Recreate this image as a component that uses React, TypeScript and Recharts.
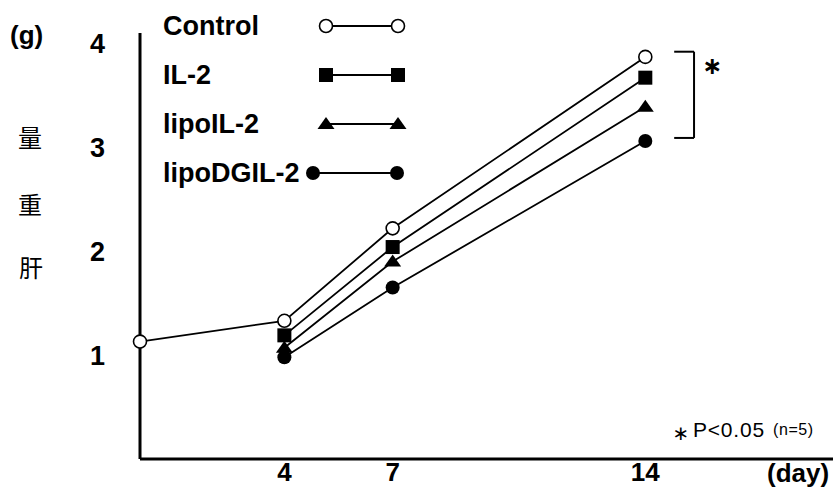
import React from 'react';
import { LineChart, Line, XAxis, YAxis, Legend, ReferenceLine } from 'recharts';

// liver weight (g) by day after treatment
const days = [0, 4, 7, 14];
const control = [1.13, 1.33, 2.22, 3.87];
const il2 = [null, 1.19, 2.04, 3.67];
const lipoIl2 = [null, 1.07, 1.9, 3.39];
const lipoDgIl2 = [null, 0.98, 1.65, 3.06];

const xTicks = [4, 7, 14];
const yTicks = [1, 2, 3, 4];

const seriesNames = ['Control', 'IL-2', 'lipoIL-2', 'lipoDGIL-2'];
const seriesKeys = ['control', 'il2', 'lipoIl2', 'lipoDgIl2'];
const seriesShapes = ['openCircle', 'square', 'triangle', 'dot'];

// significance bracket (day, g)
const bracketDays = [14.8, 15.35];
const bracketWeights = [3.09, 3.92];

const data = days.map((day, i) => ({
  day,
  control: control[i],
  il2: il2[i],
  lipoIl2: lipoIl2[i],
  lipoDgIl2: lipoDgIl2[i],
}));

const FONT = '"Liberation Sans", Arial, Helvetica, sans-serif';

function Marker({ shape, cx, cy }: { shape: string; cx: number; cy: number }) {
  if (shape === 'openCircle') {
    return <circle cx={cx} cy={cy} r={6.5} fill="#fff" stroke="#000" strokeWidth={1.6} />;
  }
  if (shape === 'square') {
    return <rect x={cx - 7} y={cy - 7} width={14} height={14} fill="#000" />;
  }
  if (shape === 'triangle') {
    return <polygon points={`${cx},${cy - 7} ${cx - 8.5},${cy + 5} ${cx + 8.5},${cy + 5}`} fill="#000" />;
  }
  return <circle cx={cx} cy={cy} r={7} fill="#000" />;
}

const dotRenderer = (shape: string) => (props: any) => {
  const { cx, cy, index, value } = props;
  if (cx == null || cy == null || value == null) return <g key={`e-${index}`} />;
  return <Marker key={`${shape}-${index}`} shape={shape} cx={cx} cy={cy} />;
};

function LegendBox() {
  return (
    <div style={{ position: 'relative', width: 300, height: 200, fontFamily: FONT, fontWeight: 700, fontSize: 27, color: '#000' }}>
      {seriesNames.map((name, i) => {
        const left = i === 3 ? 140 : 153;
        const w = i === 3 ? 104 : 92;
        return (
          <div key={name} style={{ position: 'absolute', left: 0, top: i * 49 + 1, height: 50, width: 300 }}>
            <span style={{ lineHeight: '50px', whiteSpace: 'nowrap' }}>{name}</span>
            <svg width={w} height={20} style={{ position: 'absolute', left, top: 15 }}>
              <line x1={10} y1={10} x2={w - 10} y2={10} stroke="#000" strokeWidth={1.8} />
              <Marker shape={seriesShapes[i]} cx={10} cy={10} />
              <Marker shape={seriesShapes[i]} cx={w - 10} cy={10} />
            </svg>
          </div>
        );
      })}
    </div>
  );
}

export default function App() {
  const tickStyle = { fontFamily: FONT, fontWeight: 700, fontSize: 26, fill: '#000' };
  return (
    <div style={{ position: 'absolute', left: 0, top: 0, width: 839, height: 489, background: '#fff' }}>
      <LineChart width={839} height={489} data={data} margin={{ top: 33, right: 6, bottom: 0, left: 0 }}>
        <XAxis
          type="number"
          dataKey="day"
          domain={[0, 19.2]}
          ticks={xTicks}
          tickLine={false}
          tickSize={0}
          tickMargin={4}
          height={30}
          axisLine={{ stroke: '#000', strokeWidth: 3 }}
          tick={tickStyle}
        />
        <YAxis
          type="number"
          domain={[0, 4.1]}
          ticks={yTicks}
          tickLine={false}
          tickSize={0}
          tickMargin={35}
          width={140}
          axisLine={{ stroke: '#000', strokeWidth: 3 }}
          tick={{ ...tickStyle, fontSize: 27 }}
        />
        <Legend
          layout="vertical"
          align="center"
          verticalAlign="middle"
          content={() => <LegendBox />}
          wrapperStyle={{ top: 0, left: 163, width: 300, height: 200 }}
        />
        <ReferenceLine segment={[{ x: bracketDays[0], y: bracketWeights[1] }, { x: bracketDays[1], y: bracketWeights[1] }]} stroke="#000" strokeWidth={2} ifOverflow="visible" />
        <ReferenceLine segment={[{ x: bracketDays[1], y: bracketWeights[0] }, { x: bracketDays[1], y: bracketWeights[1] }]} stroke="#000" strokeWidth={2} ifOverflow="visible" />
        <ReferenceLine segment={[{ x: bracketDays[0], y: bracketWeights[0] }, { x: bracketDays[1], y: bracketWeights[0] }]} stroke="#000" strokeWidth={2} ifOverflow="visible" />
        {[3, 2, 1, 0].map((i) => (
          <Line
            key={seriesKeys[i]}
            type="linear"
            dataKey={seriesKeys[i]}
            name={seriesNames[i]}
            stroke="#000"
            strokeWidth={1.8}
            dot={dotRenderer(seriesShapes[i])}
            activeDot={false}
            isAnimationActive={false}
          />
        ))}
      </LineChart>
      <svg width={839} height={489} style={{ position: 'absolute', left: 0, top: 0, pointerEvents: 'none' }}>
        <text x={10} y={44} fontFamily={FONT} fontWeight={700} fontSize={26}>(g)</text>
        <g fontFamily='"Noto Sans CJK JP", sans-serif' fontSize={24} textAnchor="middle">
          <text x={30} y={147}>量</text>
          <text x={30} y={214}>重</text>
          <text x={31} y={277}>肝</text>
        </g>
        <text x={712} y={74} fontFamily='"DejaVu Sans", sans-serif' fontWeight={700} fontSize={24} textAnchor="middle">∗</text>
        <text x={681} y={440} fontFamily='"DejaVu Sans", sans-serif' fontSize={20} textAnchor="middle">∗</text>
        <text x={693} y={437} fontFamily={FONT} fontSize={21} letterSpacing={0.8}>P&lt;0.05</text>
        <text x={773} y={435} fontFamily={FONT} fontSize={16} letterSpacing={0.6}>(n=5)</text>
        <text x={767} y={482} fontFamily={FONT} fontWeight={700} fontSize={26}>(day)</text>
      </svg>
    </div>
  );
}
